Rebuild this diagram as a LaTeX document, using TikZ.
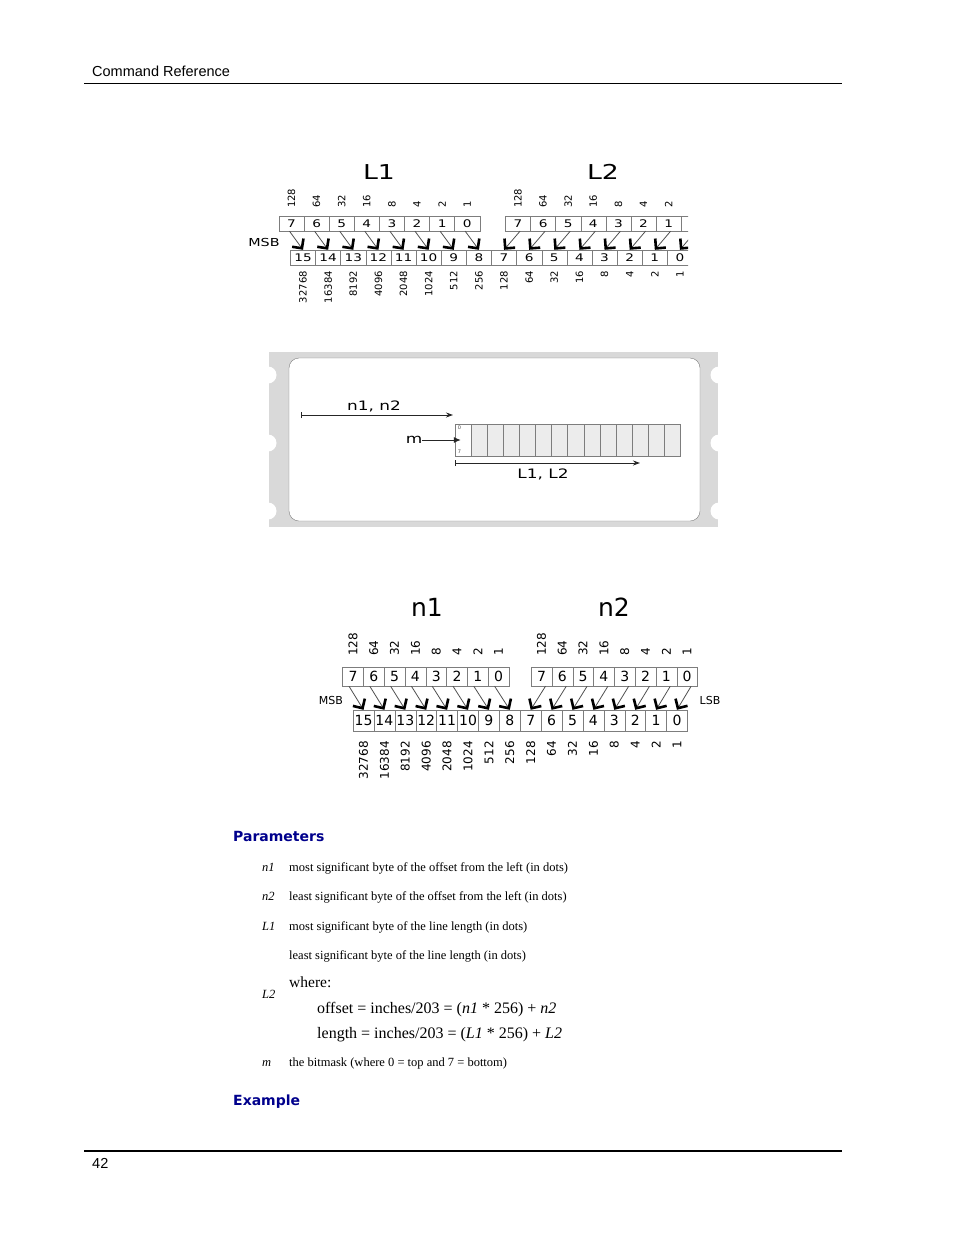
\documentclass[tikz,border=0pt]{standalone}
\usepackage{fontspec}
\setmainfont{Liberation Serif}
\newfontfamily\dvs{DejaVu Sans}
\newfontfamily\dvw[FakeStretch=1.3]{DejaVu Sans}
\newfontfamily\hdr{Liberation Sans}
\usepackage{tikz}
\usetikzlibrary{arrows.meta}
\definecolor{navyhead}{RGB}{0,0,140}
\definecolor{boxline}{RGB}{125,125,125}
\definecolor{bandgrey}{RGB}{217,217,217}
\definecolor{cellgrey}{RGB}{236,236,236}
\definecolor{shaft}{RGB}{80,80,80}
\newcommand{\fs}[1]{\fontsize{#1}{#1}\selectfont}

\begin{document}
\begin{tikzpicture}[x=1pt, y=-1pt, every node/.style={inner sep=0pt},
      cellL/.style={draw=boxline, fill=white, minimum width=25.1pt, minimum height=15pt, font=\dvw\fs{10.5}},
      cellN/.style={draw=boxline, fill=white, minimum width=20.8pt, minimum height=19pt, font=\dvs\fs{14}},
      wtL/.style={rotate=90, font=\dvs\fs{10}},
      wtN/.style={rotate=90, font=\dvs\fs{12}},
      gcell/.style={draw=boxline, fill=cellgrey, minimum width=16.1pt, minimum height=32pt},
      bitar/.style={draw=shaft, line width=0.8pt, -{Straight Barb[length=7pt, width=14pt, line width=2.6pt, color=black]}},
      dimar/.style={draw=black!85, line width=0.9pt, {Bar[width=6pt]}-{Stealth[length=7pt, width=5pt]}},
      txt/.style={anchor=base west, font=\fs{12.5}},
      key/.style={anchor=base west, font=\itshape\fs{12.5}},
      eqn/.style={anchor=base west, font=\fs{16}},
      head/.style={anchor=base west, font=\dvs\bfseries\fs{14}, text=navyhead}]
    \useasboundingbox (0,0) rectangle (954,1235);

    \node[anchor=base west, font=\hdr\fs{14.5}] (hdr) at (92,76) {Command Reference};
    \draw[line width=1pt] (84,83.5) -- (842,83.5);

    \begin{scope}
      \clip (235,150) rectangle (688,315);
      \node[font=\dvw\fs{20.5}] (tl1) at (379,172) {L1};
      \node[font=\dvw\fs{20.5}] (tl2) at (603,172) {L2};
      \node[font=\dvw\fs{11}] (msb1) at (264,242) {MSB};
      \foreach \d/\w [count=\k from 0] in {7/128,6/64,5/32,4/16,3/8,2/4,1/2,0/1} {
        \node[cellL] (la\d) at ({291.5+25.1*\k},223.5) {\d};
        \node[cellL] (lb\d) at ({518+25.1*\k},223.5) {\d};
        \node[wtL, anchor=west] (lwa\d) at ({291.5+25.1*\k},208) {\w};
        \node[wtL, anchor=west] (lwb\d) at ({518+25.1*\k},208) {\w};
      }
      \foreach \n/\w [count=\k from 0] in {15/32768,14/16384,13/8192,12/4096,11/2048,10/1024,9/512,8/256,
                                           7/128,6/64,5/32,4/16,3/8,2/4,1/2,0/1} {
        \node[cellL, minimum width=25.13pt] (lc\n) at ({303+25.13*\k},257.5) {\n};
        \node[wtL, anchor=east] (lwc\n) at ({303+25.13*\k},271) {\w};
      }
      \foreach \d in {7,...,0} {
        \pgfmathtruncatemacro\m{\d+8}
        \draw[bitar] ([xshift=-2pt]la\d.south) -- (lc\m.north);
        \draw[bitar] ([xshift=2pt]lb\d.south) -- (lc\d.north);
      }
    \end{scope}

    \fill[bandgrey] (269,352) rectangle (718,527);
    \foreach \y in {375,443,511} {
      \fill[white] (268,\y) circle (8.5);
      \fill[white] (719,\y) circle (8.5);
    }
    \draw[boxline, fill=white, rounded corners=10pt] (289,358) rectangle (700,521);
    \foreach \i in {0,...,13}
      \node[gcell] (g\i) at ({463+16.1*\i},440) {};
    \node[gcell, fill=white] (g0) at (463,440) {};
    \node[font=\dvs\fs{5}, text=black!70] (g0top) at (459.5,428) {0};
    \node[font=\dvs\fs{5}, text=black!70] (g0bot) at (459.5,452) {7};
    \coordinate (na) at (301,415);
    \coordinate (nb) at (453,415);
    \draw[dimar] (na) -- (nb);
    \node[font=\dvw\fs{13}] (nlab) at (374,406) {n1, n2};
    \node[font=\dvw\fs{13}] (mlab) at (414,440) {m};
    \draw[draw=black!85, line width=0.9pt, -{Latex[length=7pt, width=6pt]}] (mlab.east) -- ([xshift=6pt]g0.west);
    \coordinate (la) at (455,463);
    \coordinate (lb) at (640,463);
    \draw[dimar] (la) -- (lb);
    \node[font=\dvw\fs{13}] (llab) at (543,474) {L1, L2};

    \node[font=\dvs\fs{25}] (tn1) at (427,607) {n1};
    \node[font=\dvs\fs{25}] (tn2) at (614,607) {n2};
    \node[font=\dvs\fs{11}] (msb2) at (331,700) {MSB};
    \node[font=\dvs\fs{11}] (lsb2) at (710,700) {LSB};
    \foreach \d/\w [count=\k from 0] in {7/128,6/64,5/32,4/16,3/8,2/4,1/2,0/1} {
      \node[cellN] (na\d) at ({353+20.8*\k},676.5) {\d};
      \node[cellN] (nb\d) at ({541.5+20.8*\k},676.5) {\d};
      \node[wtN, anchor=west] (nwa\d) at ({353+20.8*\k},656) {\w};
      \node[wtN, anchor=west] (nwb\d) at ({541.5+20.8*\k},656) {\w};
    }
    \foreach \n/\w [count=\k from 0] in {15/32768,14/16384,13/8192,12/4096,11/2048,10/1024,9/512,8/256,
                                         7/128,6/64,5/32,4/16,3/8,2/4,1/2,0/1} {
      \node[cellN, minimum width=20.9pt, minimum height=21pt] (nc\n) at ({363.5+20.9*\k},720.5) {\n};
      \node[wtN, anchor=east] (nwc\n) at ({363.5+20.9*\k},741) {\w};
    }
    \foreach \d in {7,...,0} {
      \pgfmathtruncatemacro\m{\d+8}
      \draw[bitar] ([xshift=-4pt]na\d.south) -- (nc\m.north);
      \draw[bitar] ([xshift=4pt]nb\d.south) -- (nc\d.north);
    }

    \node[head] (par) at (233,841) {Parameters};
    \node[key] (kn1) at (262,871) {n1};
    \node[txt] (dn1) at (289,871) {most significant byte of the offset from the left (in dots)};
    \node[key] (kn2) at (262,900) {n2};
    \node[txt] (dn2) at (289,900) {least significant byte of the offset from the left (in dots)};
    \node[key] (kl1) at (262,930) {L1};
    \node[txt] (dl1) at (289,930) {most significant byte of the line length (in dots)};
    \node[txt] (dl2) at (289,959) {least significant byte of the line length (in dots)};
    \node[anchor=base west, font=\fs{15.5}] (wh) at (289,987) {where:};
    \node[key] (kl2) at (262,998) {L2};
    \node[eqn] (eqo) at (317,1013) {offset = inches/203 = (\textit{n1} * 256) + \textit{n2}};
    \node[eqn] (eql) at (317,1038) {length = inches/203 = (\textit{L1} * 256) + \textit{L2}};
    \node[key] (km) at (262,1066) {m};
    \node[txt] (dm) at (289,1066) {the bitmask (where 0 = top and 7 = bottom)};
    \node[head] (ex) at (233,1105) {Example};

    \draw[line width=2pt] (84,1151) -- (842,1151);
    \node[anchor=base west, font=\hdr\fs{14.5}] (pg) at (92,1168) {42};
  \end{tikzpicture}
\end{document}
